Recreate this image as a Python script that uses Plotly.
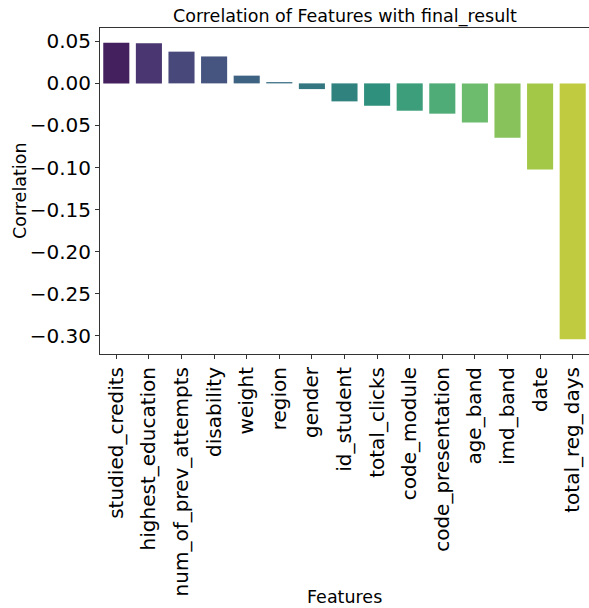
import colorsys
import plotly.graph_objects as go
from plotly.colors import sample_colorscale, unlabel_rgb

features = ["studied_credits", "highest_education", "num_of_prev_attempts", "disability",
            "weight", "region", "gender", "id_student", "total_clicks", "code_module",
            "code_presentation", "age_band", "imd_band", "date", "total_reg_days"]
correlation = [0.0482, 0.0476, 0.0377, 0.0320, 0.0092, 0.0015, -0.0068, -0.0214,
               -0.0266, -0.0325, -0.0360, -0.0464, -0.0646, -0.1024, -0.3040]
ytick_vals = [0.05, 0.0, -0.05, -0.10, -0.15, -0.20, -0.25, -0.30]
ytick_text = ["0.05", "0.00", "\u22120.05", "\u22120.10", "\u22120.15", "\u22120.20",
              "\u22120.25", "\u22120.30"]

n = len(features)
viridis = ['#440154', '#482878', '#3e4989', '#31688e', '#26828e', '#1f9e89',
           '#35b779', '#6ece58', '#b5de2b', '#fde725']
scale = [[i / (len(viridis) - 1), c] for i, c in enumerate(viridis)]
positions = [(i + 1) / (n + 1) for i in range(n)]
raw = sample_colorscale(scale, positions)


def desat(c, s=0.75):
    r, g, b = [v / 255 for v in unlabel_rgb(c)]
    h, l, sat = colorsys.rgb_to_hls(r, g, b)
    r, g, b = colorsys.hls_to_rgb(h, l, sat * s)
    return "rgb(%d,%d,%d)" % (round(r * 255), round(g * 255), round(b * 255))


colors = [desat(c) for c in raw]

fig = go.Figure(go.Bar(x=features, y=correlation, marker=dict(color=colors, line=dict(width=0)),
                       width=0.8, hoverinfo="skip"))

ymin = min(correlation)
ymax = max(correlation)
pad = (ymax - ymin) * 0.05

font = "DejaVu Sans, sans-serif"
fig.update_layout(
    width=589, height=608,
    margin=dict(l=100, r=0, t=28, b=254),
    plot_bgcolor="white", paper_bgcolor="white",
    font=dict(family=font, color="black"),
    showlegend=False,
    bargap=0.2,
    annotations=[
        dict(text="Correlation of Features with final_result", x=0.5, xref="paper",
             y=1, yref="paper", yshift=12, yanchor="middle", showarrow=False,
             font=dict(size=17.5)),
        dict(text="Features", x=0.5, xref="paper", y=0, yref="paper", yshift=-243,
             yanchor="middle", showarrow=False, font=dict(size=17.5)),
        dict(text="Correlation", x=0, xref="paper", xshift=-80, y=0.5, yref="paper",
             textangle=-90, xanchor="center", showarrow=False, font=dict(size=17.5)),
    ],
)

fig.update_xaxes(range=[-0.5, n - 0.5], tickangle=-90, tickfont=dict(size=20),
                 showline=True, linecolor="#333", linewidth=1, mirror=True,
                 ticks="outside", ticklen=4, tickcolor="#333", showgrid=False,
                 automargin=False)
fig.update_yaxes(range=[ymin - pad, ymax + pad], tickvals=ytick_vals, ticktext=ytick_text,
                 tickfont=dict(size=20), showline=True, linecolor="#333", linewidth=1,
                 mirror=True, ticks="outside", ticklen=4, tickcolor="#333",
                 showgrid=False, zeroline=False, automargin=False)

fig.write_html("out.html", config={"displayModeBar": False, "staticPlot": True},
               post_script="document.body.style.margin='0';document.body.style.overflow='hidden';")
